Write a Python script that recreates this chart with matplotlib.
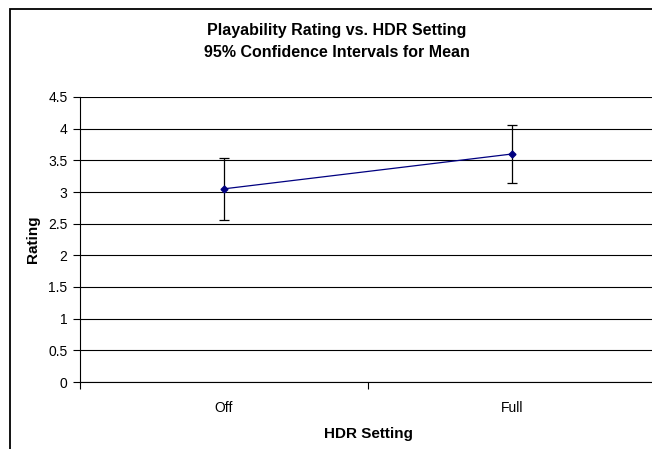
import numpy as np
import matplotlib.pyplot as plt
from matplotlib.patches import Rectangle

plt.rcParams['font.family'] = ['Liberation Sans', 'DejaVu Sans']

categories = ['Off', 'Full']
means = [3.05, 3.60]
upper = [3.54, 4.06]
lower = [2.56, 3.14]

W, H = 652, 449
fig = plt.figure(figsize=(W / 100, H / 100), dpi=100)

# chart area border (extends past the right / bottom edge of the picture)
fig.patches.append(Rectangle((9.5 / W, -0.1), 1.2, 1 - 8.5 / H + 0.1,
                             transform=fig.transFigure, fill=False,
                             edgecolor='black', lw=1.3))

ax = fig.add_axes([80 / W, 1 - 382 / H, 576 / W, (382 - 97) / H])

x = np.arange(len(categories)) + 0.5
m = np.array(means)
yerr = [m - np.array(lower), np.array(upper) - m]
ax.errorbar(x, m, yerr=yerr, fmt='none', ecolor='black', elinewidth=0.9,
            capsize=3.5, capthick=0.9, zorder=3)
ax.plot(x, m, color='#000080', lw=0.9, marker='D', ms=3.5, zorder=4)

ax.set_xlim(0, 2)
ax.set_ylim(0, 4.5)
ax.set_yticks(np.arange(0, 4.51, 0.5))
ax.set_yticklabels(['0', '0.5', '1', '1.5', '2', '2.5', '3', '3.5', '4', '4.5'])
ax.yaxis.grid(True, color='black', lw=0.8)
ax.set_axisbelow(True)

ax.set_xticks([0, 1, 2])
ax.set_xticklabels([])
ax.set_xticks(x, minor=True)
ax.set_xticklabels(categories, minor=True)
ax.tick_params(axis='x', which='minor', length=0, pad=14, labelsize=10)
ax.tick_params(axis='x', which='major', direction='out', length=5, width=0.8)
ax.tick_params(axis='y', direction='out', length=5, width=0.8, labelsize=10, pad=4)

for s in ['top', 'right']:
    ax.spines[s].set_visible(False)
ax.spines['left'].set_linewidth(0.8)
ax.spines['bottom'].set_linewidth(0.8)

ax.set_xlabel('HDR Setting', fontsize=11, fontweight='bold', labelpad=8)
ax.set_ylabel('Rating', fontsize=11, fontweight='bold', labelpad=6)

fig.text(337 / W, 1 - 41.5 / H, 'Playability Rating vs. HDR Setting\n95% Confidence Intervals for Mean',
         ha='center', va='center', fontsize=11.5, fontweight='bold', linespacing=1.55)

fig.savefig('out.png', dpi=100)
